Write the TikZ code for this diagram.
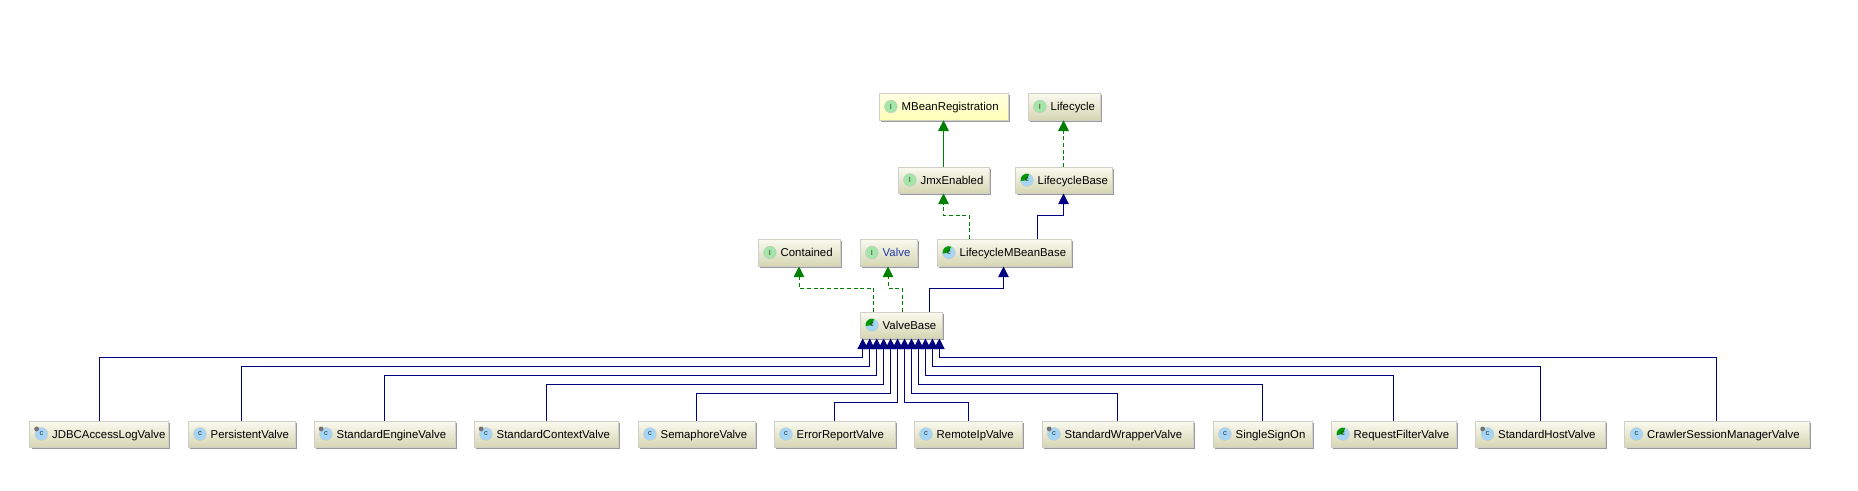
\documentclass[tikz,border=0pt]{standalone}
\usepackage{fontspec}
\setmainfont{Liberation Sans}
\usetikzlibrary{arrows.meta,calc}
\definecolor{navyline}{HTML}{000080}
\definecolor{greenline}{HTML}{008000}
\definecolor{boxedge}{HTML}{D0D0C8}
\definecolor{boxtop}{HTML}{FAFAF0}
\definecolor{boxbot}{HTML}{D6D6B4}
\definecolor{yellowtop}{HTML}{FFFFE4}
\definecolor{yellowbot}{HTML}{FFFFB8}
\definecolor{icblue}{HTML}{A6D6F6}
\definecolor{icgreen}{HTML}{A4E6A8}
\definecolor{valveblue}{HTML}{2038A8}
\definecolor{shadowgrey}{HTML}{9A9A9A}
\tikzset{
  x=0.75pt,y=-0.75pt,
  umlbox/.style={draw=boxedge,line width=0.5pt,top color=boxtop,bottom color=boxbot,
    inner xsep=0pt,inner ysep=0pt,align=left,anchor=center,text=black,
    text height=7.9pt,text depth=1.5pt,
    font=\fontsize{8.55pt}{10pt}\selectfont},
  noteyellow/.style={top color=yellowtop,bottom color=yellowbot},
  ext/.style={draw=navyline,line width=0.7pt,-{Triangle[length=8pt,width=8pt,fill=navyline]}},
  gen/.style={draw=greenline,line width=0.7pt,-{Triangle[length=8pt,width=8pt,fill=greenline]}},
  impl/.style={gen,dash pattern=on 3pt off 2pt},
  icondisc/.style={circle,minimum size=9.6pt,inner sep=0pt,draw=black!22,line width=0.3pt,
    font=\fontsize{5.6pt}{6pt}\selectfont,text=black!80},
}
\newcommand{\umlnode}[8][]{%
  \pgfmathsetmacro{\cxx}{(#3+#4)/2}%
  \pgfmathsetmacro{\wdd}{(#4-#3)*0.75}%
  \pgfmathsetmacro{\htt}{(#6-#5)*0.75}%
  \fill[shadowgrey] ({#3+2},{#5+2}) rectangle ({#4+1.6},{#6+1.6});%
  \node[umlbox,#1,minimum width=\wdd pt,minimum height=\htt pt,text width=\wdd pt] (#2) at (\cxx,{(#5+#6)/2}) {\hspace*{17pt}#7};%
  #8%
}
\newcommand{\icI}[1]{\node[icondisc,fill=icgreen] (#1i) at ($(#1.west)+(9.2pt,0)$) {I};}
\newcommand{\icC}[1]{\node[icondisc,fill=icblue] (#1i) at ($(#1.west)+(9.2pt,0)$) {c};}
\newcommand{\icA}[1]{\node[icondisc,fill=icblue] (#1i) at ($(#1.west)+(9.2pt,0)$) {};
  \fill[green!60!black] (#1i.center) -- ++(190:4.7pt) arc (190:70:4.7pt) -- cycle;
  \node[font=\fontsize{5.6pt}{6pt}\selectfont,text=black!80] at (#1i.center) {c};}
\newcommand{\icP}[1]{\node[icondisc,fill=icblue] (#1i) at ($(#1.west)+(9.2pt,0)$) {c};
  \fill[black!55] ($(#1i.center)+(-3.6pt,3.8pt)$) circle (1.8pt);}
\begin{document}
\begin{tikzpicture}
\useasboundingbox (0,0) rectangle (1858,490);
\umlnode[noteyellow]{mbean}{879}{1008}{93}{120}{MBeanRegistration}{\icI{mbean}}
\umlnode{lifecycle}{1028}{1100}{93}{120}{Lifecycle}{\icI{lifecycle}}
\umlnode{jmx}{898}{989}{167}{193}{JmxEnabled}{\icI{jmx}}
\umlnode{lcbase}{1015}{1112}{167}{193}{LifecycleBase}{\icA{lcbase}}
\umlnode{contained}{758}{840}{239}{266}{Contained}{\icI{contained}}
\umlnode{valve}{860}{917}{239}{266}{\textcolor{valveblue}{Valve}}{\icI{valve}}
\umlnode{lmb}{937}{1071}{239}{266}{LifecycleMBeanBase}{\icA{lmb}}
\umlnode{vb}{860}{942}{312}{338}{ValveBase}{\icA{vb}}
\umlnode{jdbc}{29.5}{168.5}{421}{447}{JDBCAccessLogValve}{\icP{jdbc}}
\umlnode{pers}{188}{295}{421}{447}{PersistentValve}{\icC{pers}}
\umlnode{engine}{314}{455}{421}{447}{StandardEngineValve}{\icP{engine}}
\umlnode{context}{474}{618}{421}{447}{StandardContextValve}{\icP{context}}
\umlnode{sema}{638}{755}{421}{447}{SemaphoreValve}{\icC{sema}}
\umlnode{error}{774}{895}{421}{447}{ErrorReportValve}{\icC{error}}
\umlnode{remote}{914}{1022}{421}{447}{RemoteIpValve}{\icC{remote}}
\umlnode{wrapper}{1042}{1193.5}{421}{447}{StandardWrapperValve}{\icP{wrapper}}
\umlnode{sso}{1213}{1312}{421}{447}{SingleSignOn}{\icC{sso}}
\umlnode{filter}{1331}{1456}{421}{447}{RequestFilterValve}{\icA{filter}}
\umlnode{host}{1475.5}{1605}{421}{447}{StandardHostValve}{\icP{host}}
\umlnode{crawler}{1624.5}{1809}{421}{447}{CrawlerSessionManagerValve}{\icC{crawler}}
\draw[gen] (jmx.north) -- (mbean.south-|jmx.north);
\coordinate (lcs) at (1063.5,167);
\draw[impl] (lcs) -- (lifecycle.south-|lcs);
\coordinate (a1) at (969,239); \coordinate (a2) at (943.5,193.5);
\draw[impl] (a1) |- (943.5,215) -- (a2);
\coordinate (b1) at (1037,239); \coordinate (b2) at (1063.5,193.5);
\draw[ext] (b1) |- (1063.5,215) -- (b2);
\coordinate (c1) at (873.5,312); \coordinate (c2) at (799,266.5);
\draw[impl] (c1) |- (799,288) -- (c2);
\coordinate (d1) at (902,312); \coordinate (d2) at (888,266.5);
\draw[impl] (d1) |- (888,288) -- (d2);
\coordinate (e1) at (929.5,312); \coordinate (e2) at (1003.5,266.5);
\draw[ext] (e1) |- (1003.5,288) -- (e2);
\foreach \nm/\i/\yy in {jdbc/0/357.3,pers/1/366.3,engine/2/375.3,context/3/384.3,sema/4/393.3,error/5/402.3,remote/6/402.3,wrapper/7/393.3,sso/8/384.3,filter/9/375.3,host/10/366.3,crawler/11/357.3}{
  \pgfmathsetmacro{\tx}{862.7+6.97*\i}
  \coordinate (t\i) at (\tx,338.5);
  \coordinate (h\i) at (\tx,\yy);
  \draw[ext] (\nm.north) |- (h\i) -- (t\i);
}
\end{tikzpicture}
\end{document}
